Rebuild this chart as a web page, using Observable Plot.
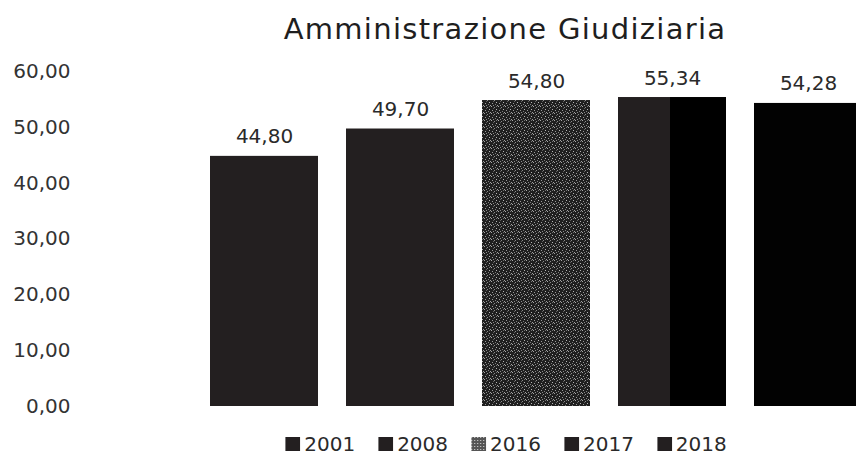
<!DOCTYPE html>
<html>
<head>
<meta charset="utf-8">
<script src="https://cdn.jsdelivr.net/npm/d3@7"></script>
<script src="https://cdn.jsdelivr.net/npm/@observablehq/plot@0.6"></script>
<style>
  html, body { margin: 0; padding: 0; background: #fff; }
  body { position: relative; width: 856px; height: 457px; overflow: hidden; font-family: "DejaVu Sans", sans-serif; }
  #title { position: absolute; top: 12px; left: 505px; transform: translateX(-50%); white-space: nowrap;
           font-size: 29px; letter-spacing: 1.3px; color: #1e1e1e; }
  #chart { position: absolute; top: 50px; left: 0; }
  #legend { position: absolute; top: 432px; left: 506px; transform: translateX(-50%); white-space: nowrap;
            font-size: 20px; color: #2a2a2a; display: flex; gap: 23px; align-items: center; }
  .item { display: flex; align-items: center; gap: 4px; }
</style>
</head>
<body>
<div id="title">Amministrazione Giudiziaria</div>
<div id="chart"></div>
<div id="legend"></div>
<script>
const years = ["2001", "2008", "2016", "2017", "2018"];
const values = [44.80, 49.70, 54.80, 55.34, 54.28];
const yTicks = [0, 10, 20, 30, 40, 50, 60];
const fills = ["#231f20", "#231f20", "url(#tex2016)", "url(#split2017)", "#020202"];
const legendFills = ["#231f20", "#231f20", "url(#tex2016)", "#231f20", "#231f20"];

const fmt = v => v.toFixed(2).replace(".", ",");
const data = years.map((y, i) => ({year: y, value: values[i], fill: fills[i]}));

const plot = Plot.plot({
  width: 856,
  height: 375,
  marginLeft: 72,
  marginTop: 0,
  marginBottom: 0,
  marginRight: 0,
  style: {fontFamily: "DejaVu Sans, sans-serif", fontSize: "20px", color: "#333", background: "transparent"},
  x: {domain: years, range: [194, 877], paddingInner: 0.209, paddingOuter: 0.1045, axis: null},
  y: {domain: [0, 60], range: [356, 21], ticks: yTicks, tickFormat: fmt, label: null},
  color: {type: "identity"},
  marks: [
    Plot.axisY({ticks: yTicks, tickFormat: fmt, tickSize: 0, tickPadding: 2, fontSize: 20, fill: "#333"}),
    Plot.barY(data, {x: "year", y: "value", fill: "fill"}),
    Plot.text(data, {x: "year", y: "value", text: d => fmt(d.value), lineAnchor: "bottom", dy: -13, fontSize: 20, fill: "#2a2a2a"})
  ]
});

const NS = "http://www.w3.org/2000/svg";
const defs = document.createElementNS(NS, "defs");
defs.innerHTML = `
  <pattern id="tex2016" patternUnits="userSpaceOnUse" width="7" height="7">
    <rect width="7" height="7" fill="#1f1f1f"/>
    <rect x="1" y="0" width="1" height="1" fill="#a8a8a8"/>
    <rect x="4" y="1" width="1" height="1" fill="#8c8c8c"/>
    <rect x="6" y="3" width="1" height="1" fill="#b5b5b5"/>
    <rect x="2" y="4" width="1" height="1" fill="#9a9a9a"/>
    <rect x="5" y="5" width="1" height="1" fill="#7d7d7d"/>
    <rect x="0" y="6" width="1" height="1" fill="#a0a0a0"/>
    <rect x="3" y="2" width="1" height="1" fill="#606060"/>
    <rect x="6" y="0" width="1" height="1" fill="#707070"/>
    <rect x="3" y="6" width="1" height="1" fill="#8a8a8a"/>
  </pattern>
  <linearGradient id="split2017" x1="0" x2="1" y1="0" y2="0">
    <stop offset="0" stop-color="#231f20"/>
    <stop offset="0.477" stop-color="#231f20"/>
    <stop offset="0.477" stop-color="#000"/>
    <stop offset="1" stop-color="#000"/>
  </linearGradient>`;
plot.insertBefore(defs, plot.firstChild);
document.getElementById("chart").appendChild(plot);

// Legend
const leg = document.getElementById("legend");
years.forEach((y, i) => {
  const item = document.createElement("span");
  item.className = "item";
  const sw = document.createElementNS(NS, "svg");
  sw.setAttribute("width", 15); sw.setAttribute("height", 14);
  sw.innerHTML = i === 2
    ? `<defs><pattern id="lt" patternUnits="userSpaceOnUse" width="3" height="3"><rect width="3" height="3" fill="#555"/><rect width="1" height="1" fill="#ddd"/></pattern></defs><rect width="15" height="14" fill="url(#lt)"/>`
    : `<rect width="15" height="14" fill="${legendFills[i]}"/>`;
  item.appendChild(sw);
  const t = document.createElement("span");
  t.textContent = y;
  item.appendChild(t);
  leg.appendChild(item);
});
</script>
</body>
</html>
